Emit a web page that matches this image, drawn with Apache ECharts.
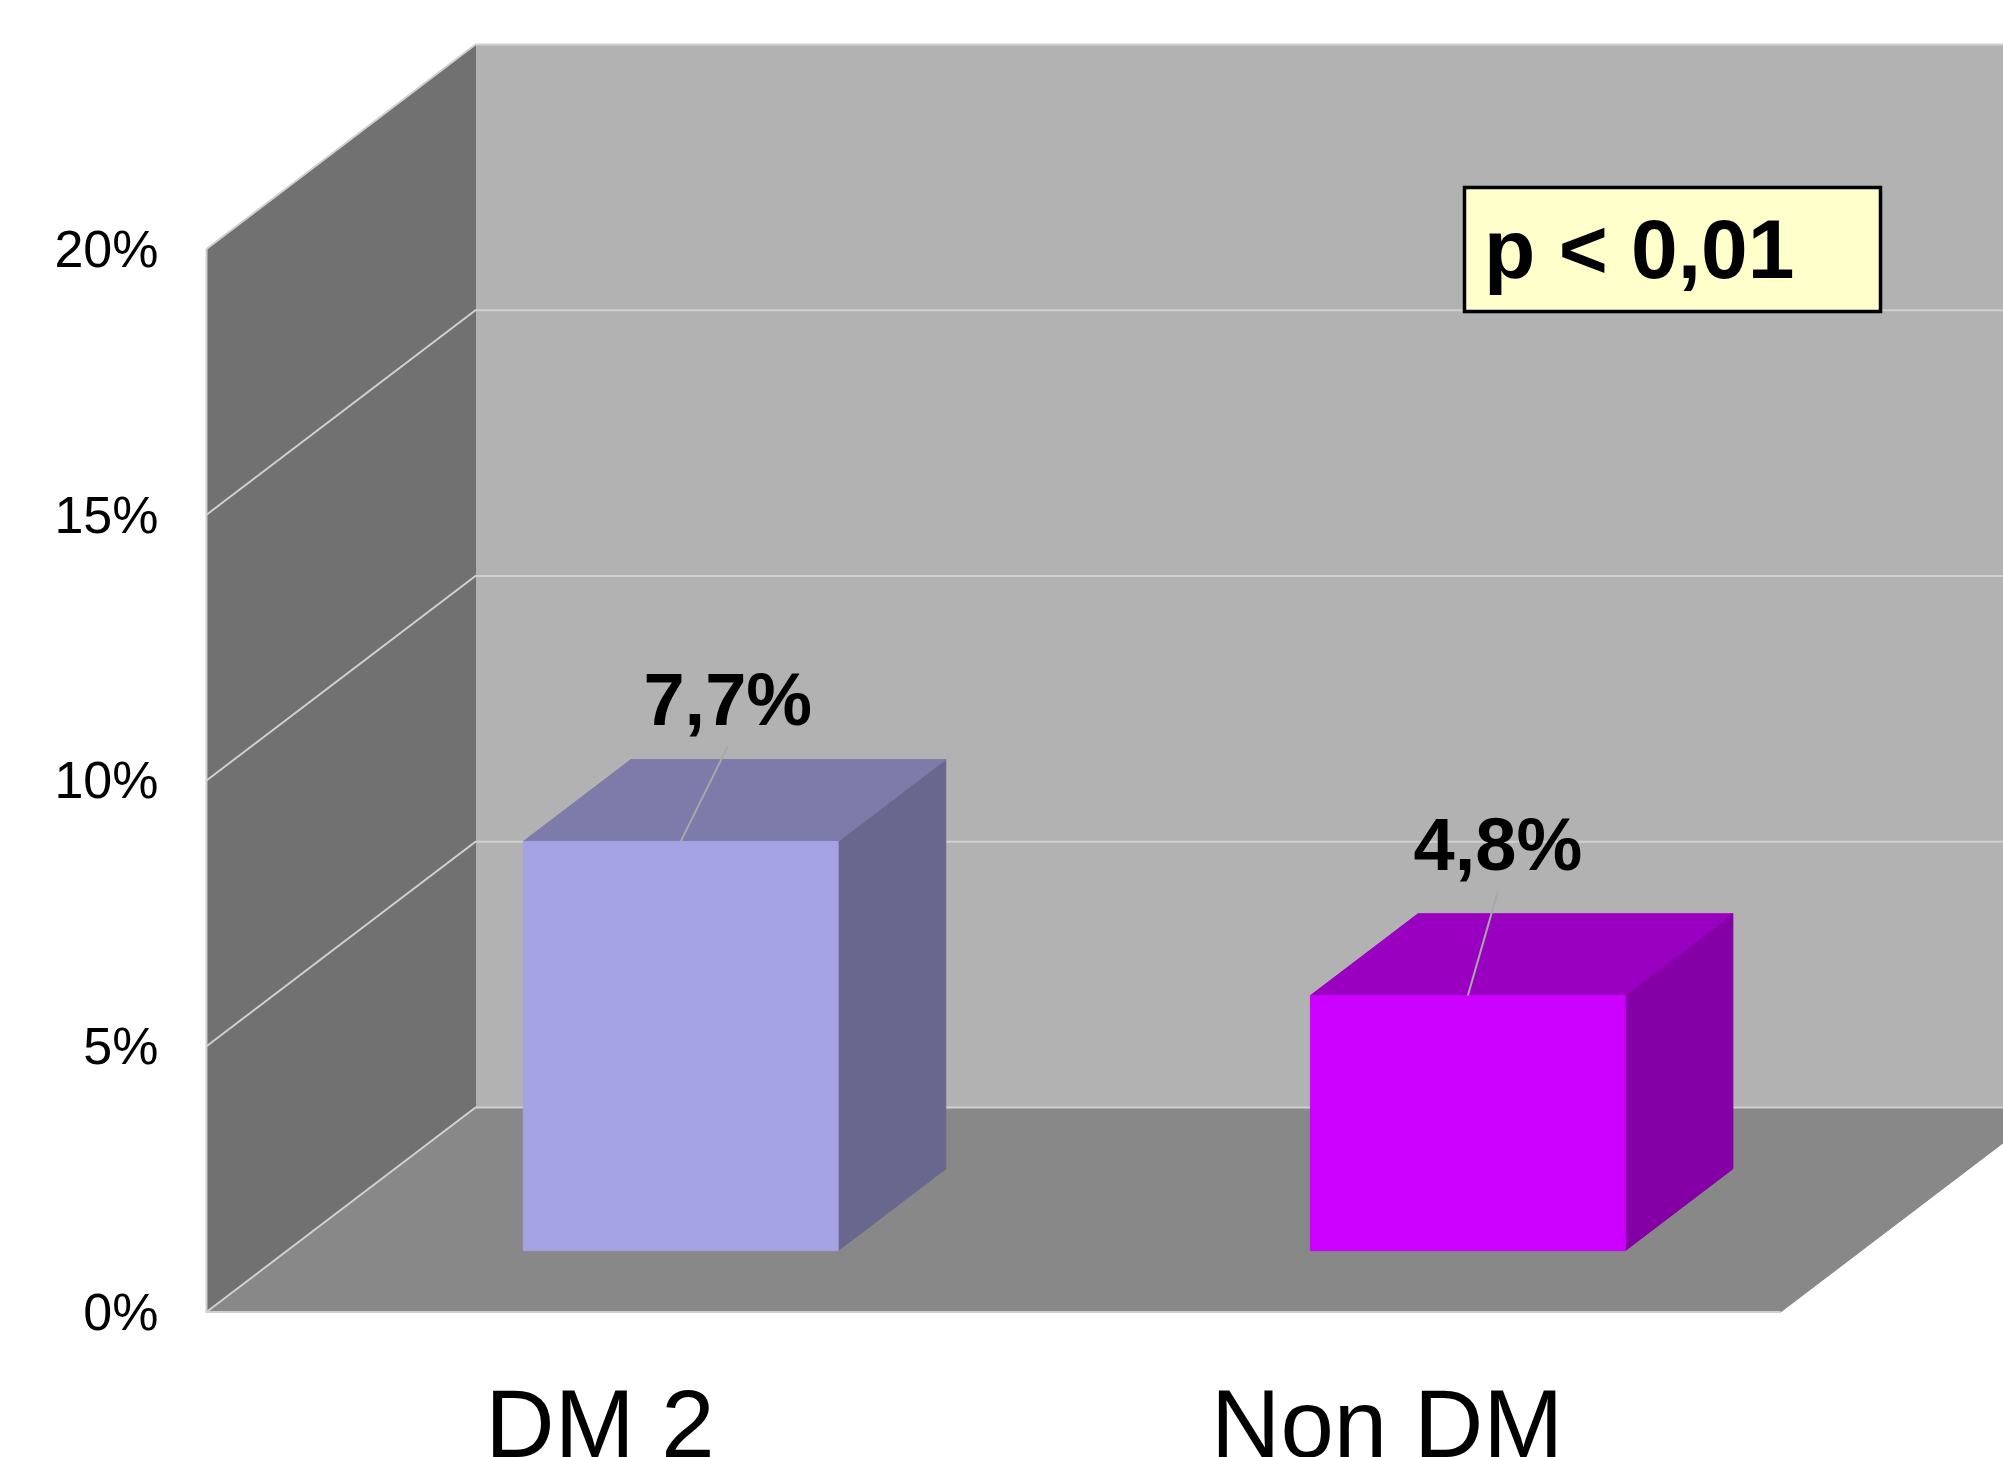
<!DOCTYPE html>
<html>
<head>
<meta charset="utf-8">
<title>DM 2 vs Non DM</title>
<script src="https://cdn.jsdelivr.net/npm/echarts@6/dist/echarts.min.js"></script>
<style>
  html, body { margin: 0; padding: 0; background: #fff; overflow: hidden; }
  #chart { width: 2003px; height: 1457px; }
</style>
</head>
<body>
<div id="chart"></div>
<script>
const categories = ['DM 2', 'Non DM'];
const values = [7.7, 4.8];
const yTicks = [0, 5, 10, 15, 20];
const pText = 'p < 0,01';

// colours per bar: front, top, side
const barColors = [
  ['#a4a2e2', '#7c7ba9', '#68678e'],
  ['#cc00ff', '#9900bf', '#8400a6']
];
// where each leader line ends, relative to the middle of the bar's top edge
const leaderOffsets = [[47, -95], [30, -104]];
const labelLift = 42;

// depth of the 3D box in pixels
const DEPTH_X = 269;
const DEPTH_Y = -204.5;
const FONT = '"Liberation Sans", Arial, sans-serif';
const LINE = '#d0d0d0';

const chart = echarts.init(document.getElementById('chart'));

// screen point for category i shifted by dx, at value v, pushed back by depth 0..1
const at = (api, i, dx, v, depth) => {
  const p = api.coord([i, v]);
  return [p[0] + dx + DEPTH_X * depth, p[1] + DEPTH_Y * depth];
};

// left and right ends of the floor, as [category, shift] pairs
const ends = (api) => {
  const half = api.size([1, 0])[0] / 2;
  return { l: [0, -half], r: [categories.length - 1, half] };
};

const poly = (points, fill) => ({
  type: 'polygon',
  shape: { points },
  style: { fill, stroke: fill, lineWidth: 1 }
});

// side wall, back wall, floor
const renderWalls = (params, api) => {
  const { l, r } = ends(api);
  const top = yTicks[yTicks.length - 1];
  const p = (e, v, depth) => at(api, e[0], e[1], v, depth);
  return {
    type: 'group',
    children: [
      poly([p(l, 0, 1), p(r, 0, 1), p(r, top, 1), p(l, top, 1)], '#b2b2b2'),
      poly([p(l, 0, 0), p(l, 0, 1), p(l, top, 1), p(l, top, 0)], '#717171'),
      poly([p(l, 0, 0), p(r, 0, 0), p(r, 0, 1), p(l, 0, 1)], '#888888'),
      {
        type: 'polyline',
        shape: { points: [p(l, top, 0), p(l, 0, 0), p(r, 0, 0)] },
        style: { fill: 'none', stroke: LINE, lineWidth: 2 }
      }
    ]
  };
};

// grid line running along the side wall and the back wall
const renderGridLine = (params, api) => {
  const v = api.value(0);
  const { l, r } = ends(api);
  const p = (e, depth) => at(api, e[0], e[1], v, depth);
  return {
    type: 'polyline',
    shape: { points: [p(l, 0), p(l, 1), p(r, 1)] },
    style: { fill: 'none', stroke: LINE, lineWidth: 2 }
  };
};

// 3D bar: sits between 30% and 70% of the floor depth
const renderBar = (params, api) => {
  const i = api.value(0);
  const v = api.value(1);
  const w = (api.size([1, 0])[0] * 0.4) / 2;
  const c = barColors[i];
  const mid = at(api, i, 0, v, 0.3);
  const off = leaderOffsets[i];
  const end = [mid[0] + off[0], mid[1] + off[1]];
  return {
    type: 'group',
    children: [
      poly([at(api, i, w, 0, 0.3), at(api, i, w, 0, 0.7), at(api, i, w, v, 0.7), at(api, i, w, v, 0.3)], c[2]),
      poly([at(api, i, -w, v, 0.3), at(api, i, w, v, 0.3), at(api, i, w, v, 0.7), at(api, i, -w, v, 0.7)], c[1]),
      poly([at(api, i, -w, 0, 0.3), at(api, i, w, 0, 0.3), at(api, i, w, v, 0.3), at(api, i, -w, v, 0.3)], c[0]),
      {
        type: 'line',
        shape: { x1: mid[0], y1: mid[1], x2: end[0], y2: end[1] },
        style: { stroke: '#a8a8a8', lineWidth: 2 }
      },
      {
        type: 'text',
        x: end[0],
        y: end[1] - labelLift,
        style: {
          text: String(v).replace('.', ',') + '%',
          font: 'bold 74px ' + FONT,
          fill: '#000',
          align: 'center',
          verticalAlign: 'middle'
        }
      }
    ]
  };
};

const option = {
  animation: false,
  backgroundColor: '#fff',
  grid: { left: 206.5, right: 222.3, top: 249, bottom: 145, outerBoundsMode: 'none' },
  xAxis: {
    type: 'category',
    data: categories,
    axisLine: { show: false },
    axisTick: { show: false },
    axisLabel: { fontFamily: FONT, fontSize: 96, color: '#000', margin: 71 }
  },
  yAxis: {
    type: 'value',
    min: 0,
    max: 20,
    interval: 5,
    axisLine: { show: false },
    axisTick: { show: false },
    splitLine: { show: false },
    axisLabel: {
      formatter: '{a|{value}%}',
      margin: 48,
      rich: {
        a: { fontFamily: FONT, fontSize: 52, color: '#000', padding: [7, 0, 0, 0] }
      }
    }
  },
  series: [
    { type: 'custom', silent: true, renderItem: renderWalls, data: [[0]], encode: { x: -1, y: -1 }, z: 1 },
    { type: 'custom', silent: true, renderItem: renderGridLine, data: yTicks.map((t) => [t]), encode: { x: -1, y: 0 }, z: 2 },
    {
      type: 'custom',
      silent: true,
      renderItem: renderBar,
      data: values.map((v, i) => [i, v]),
      encode: { x: 0, y: 1 },
      z: 3
    }
  ],
  graphic: [
    {
      type: 'rect',
      z: 10,
      shape: { x: 1464.5, y: 187.5, width: 416, height: 124 },
      style: { fill: '#ffffcc', stroke: '#000', lineWidth: 3.5 }
    },
    {
      type: 'text',
      z: 11,
      x: 1484,
      y: 255,
      style: {
        text: pText,
        font: 'bold 84px ' + FONT,
        fill: '#000',
        align: 'left',
        verticalAlign: 'middle'
      }
    }
  ]
};

chart.setOption(option);
</script>
</body>
</html>
